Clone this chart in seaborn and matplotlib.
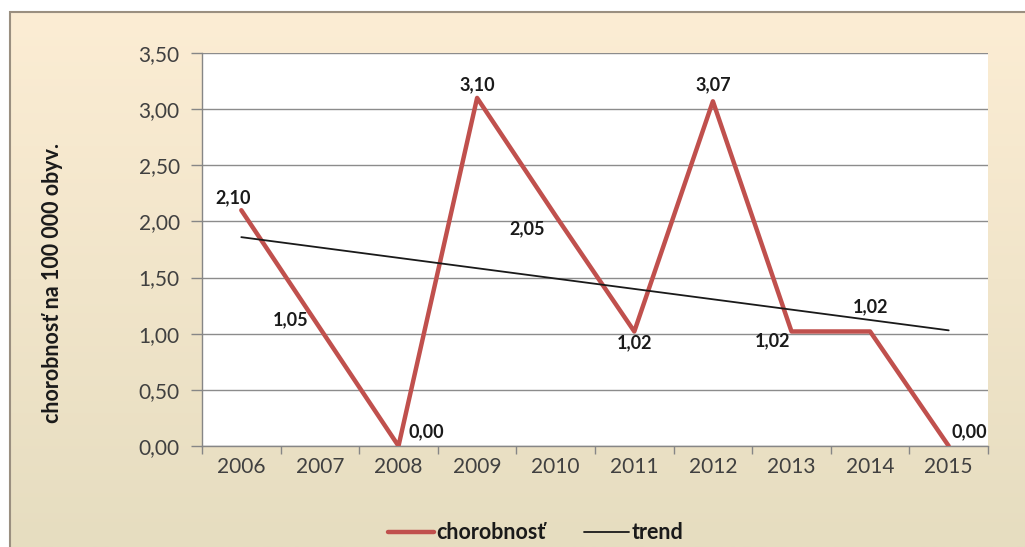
import numpy as np
import pandas as pd
import matplotlib
matplotlib.use("Agg")
import matplotlib.pyplot as plt
import seaborn as sns
from matplotlib.patches import Rectangle

years = [2006, 2007, 2008, 2009, 2010, 2011, 2012, 2013, 2014, 2015]
values = [2.10, 1.05, 0.00, 3.10, 2.05, 1.02, 3.07, 1.02, 1.02, 0.00]
trend_years = [2006, 2015]
trend_values = [1.86, 1.03]
y_ticks = [0.0, 0.5, 1.0, 1.5, 2.0, 2.5, 3.0, 3.5]

sns.set_theme(style="white")
plt.rcParams['font.family'] = ['Lato', 'DejaVu Sans']

W, H = 1025, 547
fig = plt.figure(figsize=(W / 100, H / 100), dpi=100)
fig.patch.set_facecolor("white")

# background gradient panel
bg = fig.add_axes([0, 0, 1, 1], zorder=0)
bg.set_axis_off()
grad = np.linspace(0, 1, 256).reshape(-1, 1)
top = np.array([252, 237, 212]) / 255
bot = np.array([230, 221, 192]) / 255
img = top[None, None, :] * (1 - grad[:, :, None]) + bot[None, None, :] * grad[:, :, None]
x0 = 10 / W
bg.imshow(img, extent=[x0, 1, 0, 1 - 12 / H], aspect="auto", zorder=0)
bg.set_xlim(0, 1)
bg.set_ylim(0, 1)
bg.add_patch(Rectangle((x0, -0.01), 1.0, 1 - 12 / H + 0.01, fill=False,
                       edgecolor="#9a8f80", linewidth=1.5, zorder=2))

# main axes: plot area left=202, right=988, top=53, bottom=446
L, R, T, B = 202, 988, 53, 446
ax = fig.add_axes([L / W, 1 - B / H, (R - L) / W, (B - T) / H], zorder=1)
ax.set_facecolor("white")

df = pd.DataFrame({"idx": np.arange(len(years)), "val": values})
tdf = pd.DataFrame({"idx": [years.index(y) for y in trend_years], "val": trend_values})

sns.lineplot(data=df, x="idx", y="val", ax=ax, color="#C0504D", linewidth=3.2,
             label="chorobnosť", zorder=3)
sns.lineplot(data=tdf, x="idx", y="val", ax=ax, color="#1a1a1a", linewidth=1.3,
             label="trend", zorder=4)

ax.set_xlim(-0.5, len(years) - 0.5)
ax.set_ylim(0, 3.5)
ax.set_yticks(y_ticks)
ax.set_yticklabels([f"{v:.2f}".replace(".", ",") for v in y_ticks])
ax.set_xticks(np.arange(len(years)))
ax.set_xticklabels([str(y) for y in years])
ax.set_xticks(np.arange(len(years) + 1) - 0.5, minor=True)
ax.tick_params(axis="x", which="major", length=0, pad=8, labelsize=15, labelcolor="#404040")
ax.tick_params(axis="x", which="minor", length=6, color="#868686", width=1, direction="out", bottom=True)
ax.tick_params(axis="y", which="major", length=8, color="#868686", width=1, direction="out",
               left=True, pad=8, labelsize=15, labelcolor="#404040")
ax.grid(axis="y", color="#8c8c8c", linewidth=1.0)
ax.grid(axis="x", visible=False)
for s in ["top", "right"]:
    ax.spines[s].set_visible(False)
for s in ["left", "bottom"]:
    ax.spines[s].set_color("#868686")
    ax.spines[s].set_linewidth(1.0)
ax.set_xlabel("")
ax.set_ylabel("chorobnosť na 100 000 obyv.", fontsize=15.5, fontweight="bold", color="#1a1a1a")
ax.yaxis.set_label_coords(-0.177, 0.415)

# label placement (offset in points, alignment) per point
placement = [(-6, 3, "center", "bottom"), (-8, 6, "right", "center"), (7, 10, "left", "center"),
             (0, 3, "center", "bottom"), (-8, -9, "right", "center"), (0, -2, "center", "top"),
             (0, 6, "center", "bottom"), (-1, -7, "right", "center"), (0, 12, "center", "bottom"),
             (2, 10, "left", "center")]
for i, v in enumerate(values):
    dx, dy, ha, va = placement[i]
    ax.annotate(f"{v:.2f}".replace(".", ","), (i, v), xytext=(dx, dy), textcoords="offset points",
                ha=ha, va=va, fontsize=13, fontweight="bold", color="#1a1a1a", zorder=5,
                annotation_clip=False)

leg = ax.legend(loc="upper center", bbox_to_anchor=(0.425, -0.145), ncol=2, frameon=False,
                prop={"size": 15.5, "weight": "bold"}, handlelength=2.1, handletextpad=0.12,
                columnspacing=1.8)
for t in leg.get_texts():
    t.set_color("#1a1a1a")

fig.savefig("out.png", dpi=100)
